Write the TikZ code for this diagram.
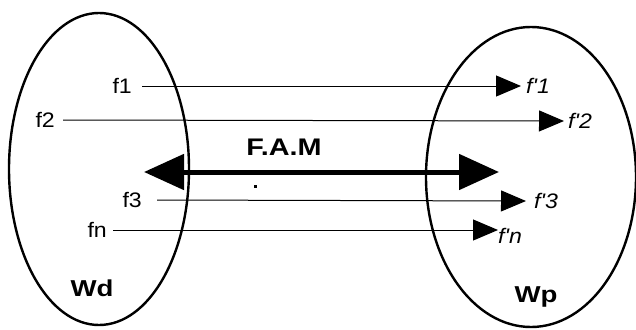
\documentclass[tikz,border=0pt]{standalone}
\usepackage{fontspec}
\setmainfont{Liberation Sans}
\newfontfamily\labfont[FakeStretch=1.1]{Liberation Sans}
\newfontfamily\bigfont[FakeStretch=1.2]{Liberation Sans}
\usetikzlibrary{arrows.meta}
\begin{document}
\begin{tikzpicture}[x=1pt,y=-1pt,
  lbl/.style={inner sep=0pt,font=\labfont\fontsize{21}{21}\selectfont},
  ilbl/.style={inner sep=0pt,font=\labfont\fontsize{21}{21}\selectfont\itshape},
  blbl/.style={inner sep=0pt,font=\bigfont\fontsize{23}{23}\selectfont\bfseries},
  famlbl/.style={inner sep=0pt,font=\bigfont\fontsize{24}{24}\selectfont\bfseries},
  world/.style={draw,line width=2.4pt},
  thinarrow/.style={line width=1pt,-{Triangle[length=25pt,width=21pt]}},
  bigarrow/.style={line width=5pt,{Triangle[length=40pt,width=35pt]}-{Triangle[length=40pt,width=35pt]}}]
\useasboundingbox (0,0) rectangle (636,329);
% worlds
\draw[world] (99,169) ellipse [x radius=90, y radius=156];
\draw[world] (531,177) ellipse [x radius=105, y radius=150];
\node[blbl,anchor=base] (wd) at (92,296) {Wd};
\node[blbl,anchor=base] (wp) at (536,302) {Wp};
% left labels
\node[lbl,anchor=east] (f1) at (132,86) {f1};
\node[lbl,anchor=east] (f2) at (55,120) {f2};
\node[lbl,anchor=east] (f3) at (142,200) {f3};
\node[lbl,anchor=east] (fn) at (107,230) {fn};
% right labels
\node[ilbl,anchor=west] (g1) at (526,86) {f'1};
\node[ilbl,anchor=west] (g2) at (568,121) {f'2};
\node[ilbl,anchor=west] (g3) at (534,201) {f'3};
\node[ilbl,anchor=west] (gn) at (498,236) {f'n};
% mappings
\draw[thinarrow] ([xshift=10pt]f1.east) -- ([xshift=-5pt]g1.west);
\draw[thinarrow] ([xshift=8pt]f2.east) -- ([xshift=-4pt]g2.west);
\draw[thinarrow] ([xshift=15pt]f3.east) -- ([xshift=-8pt]g3.west);
\draw[thinarrow] ([xshift=6pt]fn.east) -- (gn.west |- fn.east);
% F.A.M
\coordinate (famL) at (144,172);
\coordinate (famR) at (499,172);
\draw[bigarrow] (famL) -- (famR);
\node[famlbl,anchor=base] (fam) at (284,155) {F.A.M};
\fill (253.5,184.5) rectangle (256.5,187.5);
\end{tikzpicture}
\end{document}
